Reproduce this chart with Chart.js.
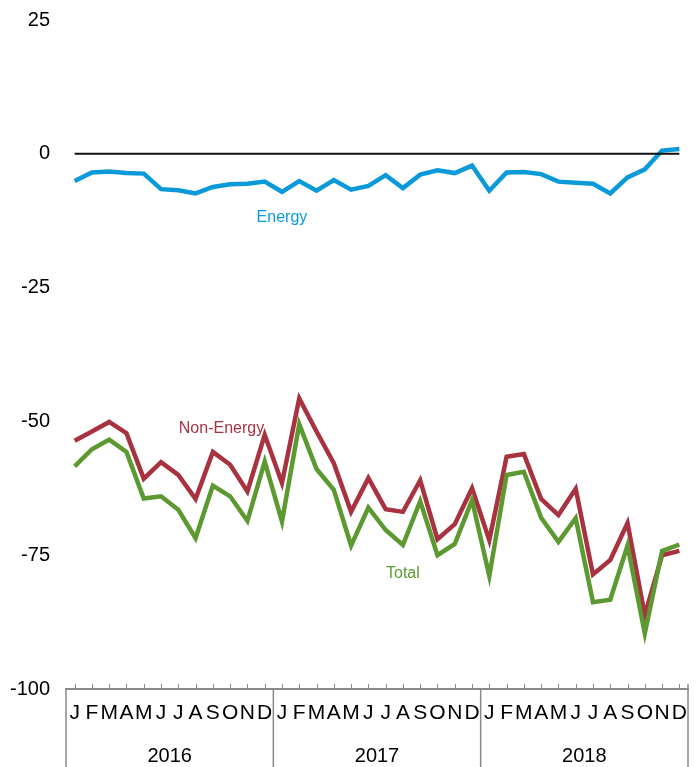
<!DOCTYPE html>
<html>
<head>
<meta charset="utf-8">
<script src="https://cdn.jsdelivr.net/npm/chart.js@4/dist/chart.umd.min.js"></script>
<style>
html,body{margin:0;padding:0;background:#fff;}
#wrap{width:696px;height:767px;}
</style>
</head>
<body>
<div id="wrap"><canvas id="c" width="696" height="767"></canvas></div>
<script>
const months = ['J','F','M','A','M','J','J','A','S','O','N','D'];
const years = ['2016','2017','2018'];
const categories = [].concat(months, months, months);
const yTicks = [25, 0, -25, -50, -75, -100];

const energy = [
  -5.1,-3.5,-3.3,-3.6,-3.7,-6.6,-6.8,-7.4,-6.2,-5.7,-5.6,-5.2,
  -7.1,-5.1,-6.9,-4.9,-6.7,-6.0,-4.0,-6.4,-3.9,-3.1,-3.6,-2.2,
  -6.9,-3.5,-3.4,-3.8,-5.2,-5.4,-5.6,-7.4,-4.4,-2.9,0.6,0.9
];
const nonEnergy = [
  -53.6,-51.9,-50.1,-52.2,-60.7,-57.6,-60.0,-64.5,-55.7,-58.1,-63.1,-52.5,
  -61.5,-45.7,-51.9,-57.8,-66.9,-60.6,-66.4,-66.9,-61.0,-72.0,-69.2,-62.5,
  -72.2,-56.6,-56.1,-64.5,-67.5,-62.6,-78.6,-75.9,-69.0,-86.2,-75.0,-74.2
];
const total = [
  -58.4,-55.2,-53.4,-55.7,-64.4,-64.0,-66.5,-71.8,-62.0,-64.0,-68.6,-57.5,
  -68.7,-50.5,-58.9,-62.8,-73.2,-66.1,-70.3,-73.1,-64.9,-75.0,-72.9,-64.7,
  -78.9,-60.0,-59.4,-68.0,-72.5,-68.1,-83.8,-83.3,-73.2,-89.6,-74.2,-73.0
];

// series name labels anchored in data space: [category index, value]
const seriesNames = ['Total','Non-Energy','Energy'];
const nameAnchorIdx = [19, 8.5, 12];
const nameAnchorVal = [-78.5, -51.3, -12];

const colBlue = '#0A9AD9';
const colRed = '#A8323F';
const colGreen = '#5C9A31';
const seriesColors = [colGreen, colRed, colBlue];

const decor = {
  id: 'decor',
  afterDatasetsDraw(chart) {
    const ctx = chart.ctx;
    const x = chart.scales.x, y = chart.scales.y;
    const n = categories.length;
    const step = x.getPixelForValue(1) - x.getPixelForValue(0);
    ctx.save();
    ctx.strokeStyle = '#111';
    ctx.lineWidth = 2;
    ctx.beginPath();
    const y0 = y.getPixelForValue(0);
    ctx.moveTo(x.getPixelForValue(0), y0);
    ctx.lineTo(x.getPixelForValue(n - 1), y0);
    ctx.stroke();
    ctx.font = '16px "Liberation Sans", Arial, sans-serif';
    ctx.textAlign = 'center';
    ctx.textBaseline = 'middle';
    for (let i = 0; i < seriesNames.length; i++) {
      const px = x.getPixelForValue(0) + nameAnchorIdx[i] * step;
      ctx.fillStyle = seriesColors[i];
      ctx.fillText(seriesNames[i], px, y.getPixelForValue(nameAnchorVal[i]));
    }
    ctx.restore();
  },
  afterDraw(chart) {
    const ctx = chart.ctx;
    const x = chart.scales.x;
    const ca = chart.chartArea;
    const n = categories.length;
    const step = x.getPixelForValue(1) - x.getPixelForValue(0);
    const H = chart.height;
    ctx.save();
    ctx.strokeStyle = '#8a8a8a';
    ctx.lineWidth = 1;
    for (let i = 0; i < n; i++) {
      const px = Math.round(x.getPixelForValue(i)) + 0.5;
      ctx.beginPath();
      ctx.moveTo(px, ca.bottom);
      ctx.lineTo(px, ca.bottom - 5);
      ctx.stroke();
    }
    ctx.lineWidth = 1.5;
    for (let k = 0; k <= years.length; k++) {
      const px = x.getPixelForValue(k * 12) - step / 2;
      ctx.beginPath();
      ctx.moveTo(px, k === years.length ? ca.bottom - 5 : ca.bottom);
      ctx.lineTo(px, H);
      ctx.stroke();
    }
    ctx.fillStyle = '#000';
    ctx.font = '20px "Liberation Sans", Arial, sans-serif';
    ctx.textAlign = 'center';
    ctx.textBaseline = 'middle';
    for (let k = 0; k < years.length; k++) {
      const px = (x.getPixelForValue(k * 12 + 5) + x.getPixelForValue(k * 12 + 6)) / 2;
      ctx.fillText(years[k], px, H - 11);
    }
    ctx.restore();
  }
};

new Chart(document.getElementById('c'), {
  type: 'line',
  data: {
    labels: categories,
    datasets: [
      { label: 'Total', data: total, borderColor: colGreen },
      { label: 'Non-Energy', data: nonEnergy, borderColor: colRed },
      { label: 'Energy', data: energy, borderColor: colBlue }
    ].map(d => Object.assign(d, { borderWidth: 4.5, pointRadius: 0, tension: 0, fill: false, borderJoinStyle: 'miter', clip: false }))
  },
  options: {
    responsive: false,
    devicePixelRatio: 1,
    animation: false,
    layout: { padding: { top: 20, right: 8, left: 0, bottom: 0 } },
    plugins: { legend: { display: false }, tooltip: { enabled: false } },
    scales: {
      x: {
        offset: true,
        grid: { display: false, drawTicks: false },
        border: { display: true, color: '#8a8a8a', width: 2 },
        ticks: {
          autoSkip: false, maxRotation: 0, padding: 12, color: '#000',
          font: { family: '"Liberation Sans Narrow", "Liberation Sans", Arial, sans-serif', size: 21 }
        },
        afterFit(s) { s.height = 78; s.paddingLeft = 0; s.paddingRight = 0; }
      },
      y: {
        min: -100, max: 25,
        grid: { display: false, drawTicks: false },
        border: { display: false },
        afterBuildTicks(s) { s.ticks = yTicks.map(v => ({ value: v })); },
        ticks: {
          padding: 16, color: '#000',
          font: { family: '"Liberation Sans", Arial, sans-serif', size: 20 }
        },
        afterFit(s) { s.width = 66; s.paddingTop = 0; s.paddingBottom = 0; }
      }
    }
  },
  plugins: [decor]
});
</script>
</body>
</html>
